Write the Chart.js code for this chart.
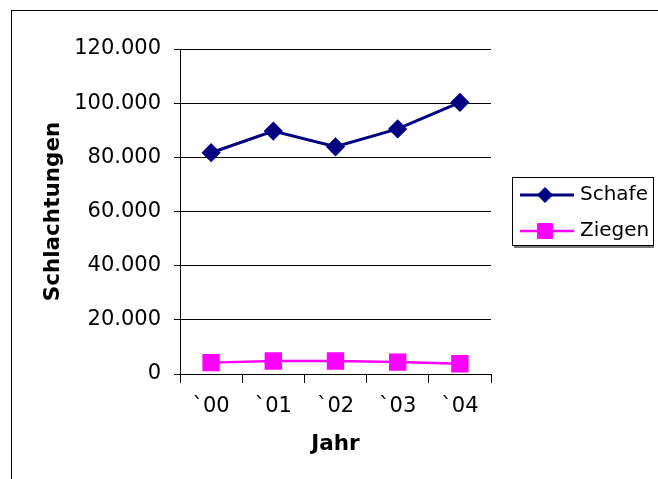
<!DOCTYPE html>
<html>
<head>
<meta charset="utf-8">
<title>Schlachtungen</title>
<script src="https://cdn.jsdelivr.net/npm/chart.js@4.4.1/dist/chart.umd.min.js"></script>
<style>
    body { margin: 0; background: #fff; }
    canvas { display: block; }
</style>
</head>
<body>
<canvas id="slaughter-chart" width="658" height="479"></canvas>
<script>
const years = ["`00", "`01", "`02", "`03", "`04"];
const sheep = [81700, 89700, 83900, 90500, 100300];
const goats = [4200, 4800, 4800, 4400, 3800];

const FONT = "'DejaVu Sans', Verdana, sans-serif";

function formatThousands(value) {
    return String(value).replace(/\B(?=(\d{3})+(?!\d))/g, ".");
}

// white background plus the outer chart frame
const chartFrame = {
    id: "chartFrame",
    beforeDraw(chart) {
        const ctx = chart.ctx;
        ctx.save();
        ctx.fillStyle = "#fff";
        ctx.fillRect(0, 0, chart.width, chart.height);
        ctx.strokeStyle = "#000";
        ctx.lineWidth = 1;
        ctx.strokeRect(11.5, 10.5, 800, 600);
        ctx.restore();
    }
};

// boxed legend on the right, built from the dataset styles
const sideLegend = {
    id: "sideLegend",
    afterDraw(chart) {
        const ctx = chart.ctx;
        ctx.save();
        ctx.fillStyle = "#fff";
        ctx.fillRect(512, 177, 141, 69);
        ctx.fillStyle = "#777";
        ctx.fillRect(514, 246, 140, 2);
        ctx.strokeStyle = "#000";
        ctx.lineWidth = 1;
        ctx.strokeRect(512.5, 177.5, 141, 68);

        chart.data.datasets.forEach((ds, idx) => {
            const y = 195 + idx * 36;
            ctx.strokeStyle = ds.borderColor;
            ctx.lineWidth = ds.borderWidth;
            ctx.beginPath();
            ctx.moveTo(520, y);
            ctx.lineTo(574, y);
            ctx.stroke();

            ctx.fillStyle = ds.pointBackgroundColor;
            ctx.strokeStyle = ds.pointBorderColor;
            ctx.lineWidth = 1;
            Chart.helpers.drawPoint(ctx, {
                pointStyle: ds.pointStyle,
                radius: ds.pointRadius,
                rotation: 0,
                borderWidth: 1
            }, 545, y);

            ctx.fillStyle = "#000";
            ctx.font = "20px " + FONT;
            ctx.textAlign = "left";
            ctx.textBaseline = "middle";
            ctx.fillText(ds.label, 580, y);
        });
        ctx.restore();
    }
};

new Chart(document.getElementById("slaughter-chart"), {
    type: "line",
    data: {
        labels: years,
        datasets: [
            {
                label: "Schafe",
                data: sheep,
                borderColor: "#000080",
                backgroundColor: "#000080",
                pointBackgroundColor: "#000080",
                pointBorderColor: "#000080",
                borderWidth: 3,
                pointStyle: "rectRot",
                pointRadius: 7.5,
                tension: 0
            },
            {
                label: "Ziegen",
                data: goats,
                borderColor: "#ff00ff",
                backgroundColor: "#ff00ff",
                pointBackgroundColor: "#ff00ff",
                pointBorderColor: "#ff00ff",
                borderWidth: 2.5,
                pointStyle: "rect",
                pointRadius: 10.5,
                tension: 0
            }
        ]
    },
    options: {
        responsive: false,
        animation: false,
        layout: {
            padding: { left: 12, top: 49, right: 167, bottom: 0 }
        },
        plugins: {
            legend: { display: false },
            tooltip: { enabled: false }
        },
        scales: {
            x: {
                offset: true,
                afterFit: (scale) => { scale.height = 105; },
                grid: {
                    offset: true,
                    drawOnChartArea: false,
                    drawTicks: true,
                    tickLength: 9,
                    color: "#000"
                },
                border: { color: "#000", width: 1 },
                ticks: {
                    color: "#000",
                    padding: 11,
                    maxRotation: 0,
                    font: { family: FONT, size: 21 }
                },
                title: {
                    display: true,
                    text: "Jahr",
                    color: "#000",
                    padding: { top: 0, bottom: 22 },
                    font: { family: FONT, size: 21.5, weight: "bold" }
                }
            },
            y: {
                min: 0,
                max: 120000,
                afterFit: (scale) => { scale.width = 168; },
                grid: {
                    color: "#000",
                    tickLength: 6
                },
                border: { color: "#000", width: 1 },
                ticks: {
                    stepSize: 20000,
                    color: "#000",
                    padding: 13,
                    font: { family: FONT, size: 21 },
                    callback: (value) => formatThousands(value)
                },
                title: {
                    display: true,
                    text: "Schlachtungen",
                    color: "#000",
                    padding: { top: 29, bottom: 0 },
                    font: { family: FONT, size: 21.5, weight: "bold" }
                }
            }
        }
    },
    plugins: [chartFrame, sideLegend]
});
</script>
</body>
</html>
